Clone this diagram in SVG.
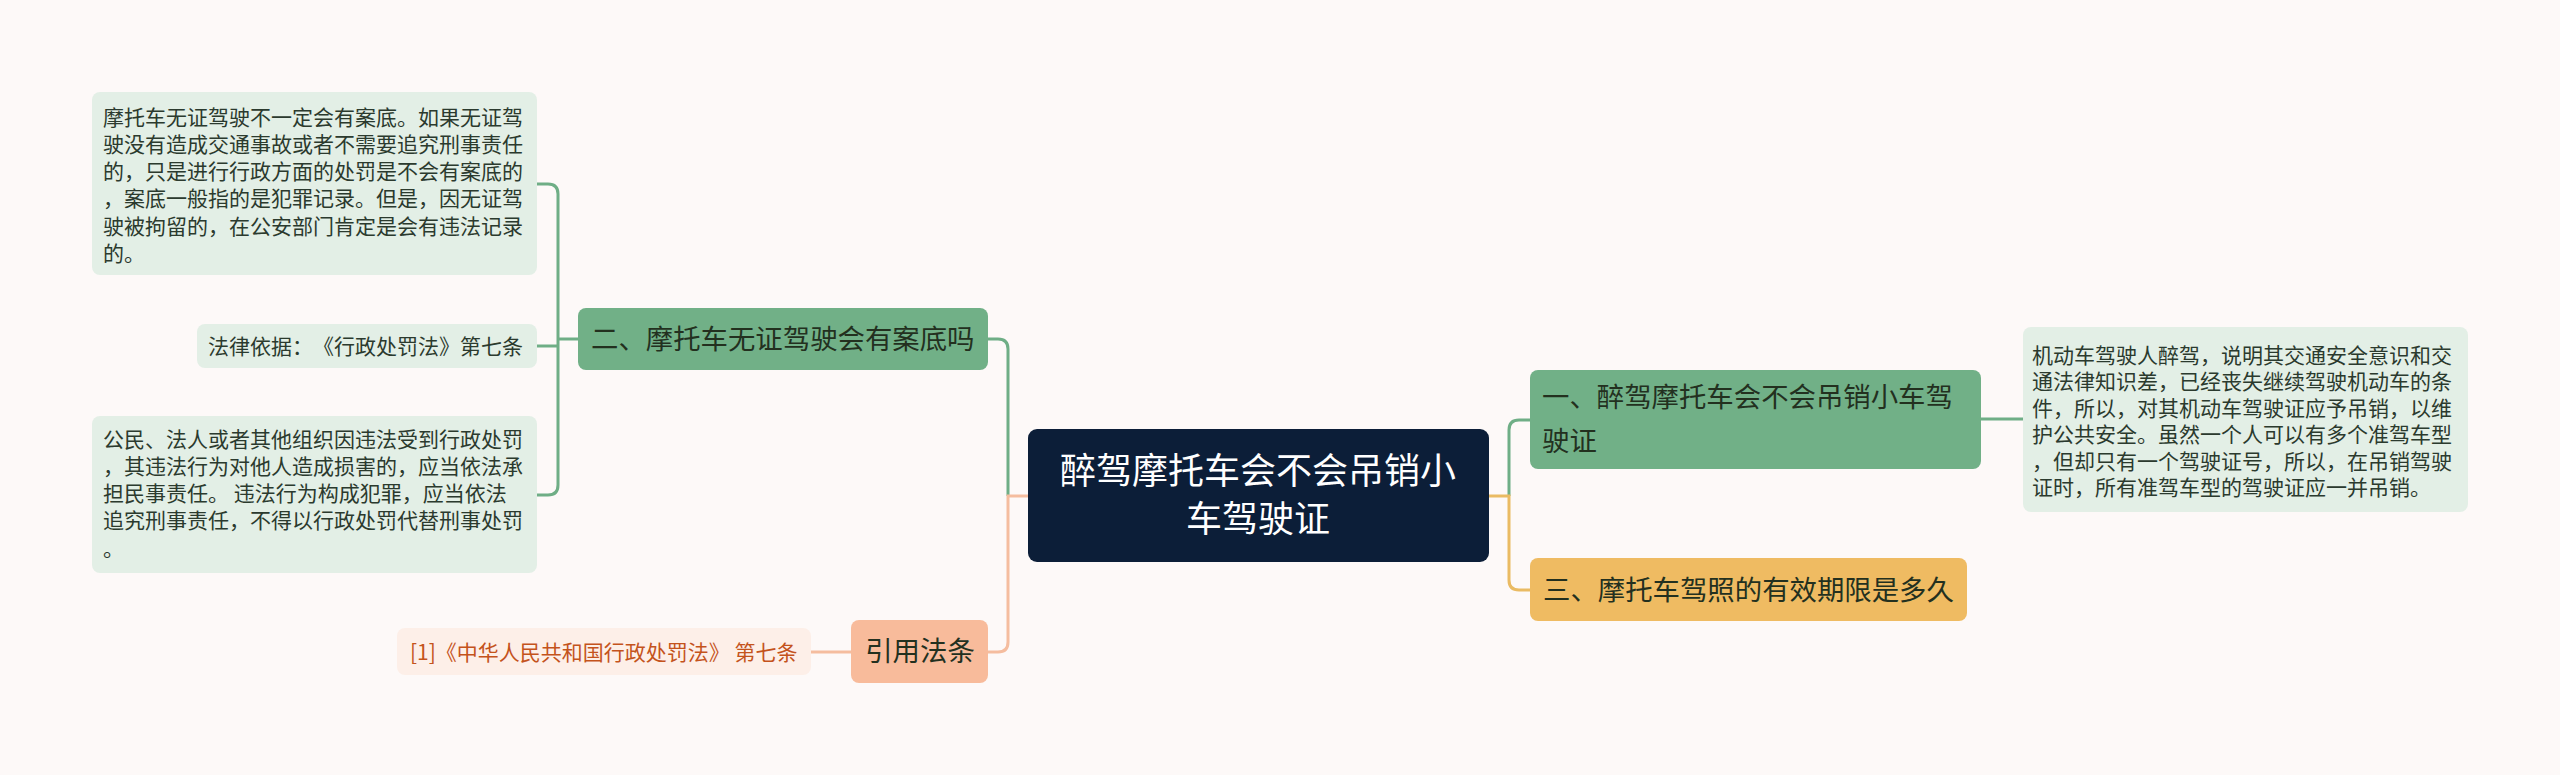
<svg xmlns="http://www.w3.org/2000/svg" width="2560" height="775" viewBox="0 0 2560 775">
<style>
text{font-family:"Noto Sans CJK SC","Noto Sans",sans-serif;text-spacing-trim:space-all;}
.leaf rect{fill:#e3efe6;}
.leaf text{font-size:21px;fill:#2b3a2e;}
.l1 text{font-size:27.4px;fill:#23301f;}
.cg{fill:none;stroke:#6fae86;stroke-width:3;}
.cp{fill:none;stroke:#f5bd9f;stroke-width:3;}
.cy{fill:none;stroke:#eabb63;stroke-width:3;}
</style>
<rect width="2560" height="775" fill="#fdf9f8"/>
<g id="connectors">
  <path class="cg" d="M578 339H558"/>
  <path class="cg" d="M537 184H548Q558 184 558 194V485Q558 495 548 495H537"/>
  <path class="cg" d="M558 346H537"/>
  <path class="cg" d="M988 339H998Q1008 339 1008 349V496"/>
  <path class="cp" d="M1028 496H1008V642Q1008 652 998 652H988"/>
  <path class="cp" d="M851 652H811"/>
  <path class="cg" d="M1509 496V430Q1509 420 1519 420H1530"/>
  <path class="cy" d="M1489 496H1509V580Q1509 590 1519 590H1530"/>
  <path class="cg" d="M1981 419H2023"/>
</g>
<g id="center">
  <rect x="1028" y="429" width="461" height="133" rx="9" fill="#0c1e38"/>
  <text x="1258" y="484" font-size="36" fill="#ffffff" text-anchor="middle">醉驾摩托车会不会吊销小</text>
  <text x="1258" y="532" font-size="36" fill="#ffffff" text-anchor="middle">车驾驶证</text>
</g>
<g id="node-er" class="l1">
  <rect x="578" y="308" width="410" height="62" rx="8" fill="#71b087"/>
  <text x="591" y="349">二、摩托车无证驾驶会有案底吗</text>
</g>
<g id="leaf-er-1" class="leaf">
  <rect x="92" y="92" width="445" height="183" rx="8"/>
  <text x="103" y="125">摩托车无证驾驶不一定会有案底。如果无证驾</text>
  <text x="103" y="152">驶没有造成交通事故或者不需要追究刑事责任</text>
  <text x="103" y="179">的，只是进行行政方面的处罚是不会有案底的</text>
  <text x="103" y="206">，案底一般指的是犯罪记录。但是，因无证驾</text>
  <text x="103" y="234">驶被拘留的，在公安部门肯定是会有违法记录</text>
  <text x="103" y="261">的。</text>
</g>
<g id="leaf-er-2" class="leaf">
  <rect x="197" y="324" width="340" height="44" rx="8"/>
  <text x="208" y="354">法律依据：《行政处罚法》第七条</text>
</g>
<g id="leaf-er-3" class="leaf">
  <rect x="92" y="416" width="445" height="157" rx="8"/>
  <text x="103" y="447">公民、法人或者其他组织因违法受到行政处罚</text>
  <text x="103" y="474">，其违法行为对他人造成损害的，应当依法承</text>
  <text x="103" y="501">担民事责任。 违法行为构成犯罪，应当依法</text>
  <text x="103" y="528">追究刑事责任，不得以行政处罚代替刑事处罚</text>
  <text x="103" y="556">。</text>
</g>
<g id="node-yinyong" class="l1">
  <rect x="851" y="620" width="137" height="63" rx="8" fill="#f8bb9b"/>
  <text x="920" y="661" text-anchor="middle">引用法条</text>
</g>
<g id="leaf-yinyong">
  <rect x="397" y="628" width="414" height="47" rx="8" fill="#fdefe8"/>
  <text x="410" y="660" font-size="21" fill="#c4531c">[1]《中华人民共和国行政处罚法》 第七条</text>
</g>
<g id="node-yi" class="l1">
  <rect x="1530" y="370" width="451" height="99" rx="8" fill="#71b087"/>
  <text x="1542" y="407">一、醉驾摩托车会不会吊销小车驾</text>
  <text x="1542" y="451">驶证</text>
</g>
<g id="leaf-yi" class="leaf">
  <rect x="2023" y="327" width="445" height="185" rx="8"/>
  <text x="2032" y="363">机动车驾驶人醉驾，说明其交通安全意识和交</text>
  <text x="2032" y="389">通法律知识差，已经丧失继续驾驶机动车的条</text>
  <text x="2032" y="416">件，所以，对其机动车驾驶证应予吊销，以维</text>
  <text x="2032" y="442">护公共安全。虽然一个人可以有多个准驾车型</text>
  <text x="2032" y="469">，但却只有一个驾驶证号，所以，在吊销驾驶</text>
  <text x="2032" y="495">证时，所有准驾车型的驾驶证应一并吊销。</text>
</g>
<g id="node-san" class="l1">
  <rect x="1530" y="558" width="437" height="63" rx="8" fill="#efbb62"/>
  <text x="1543" y="600">三、摩托车驾照的有效期限是多久</text>
</g>
</svg>
